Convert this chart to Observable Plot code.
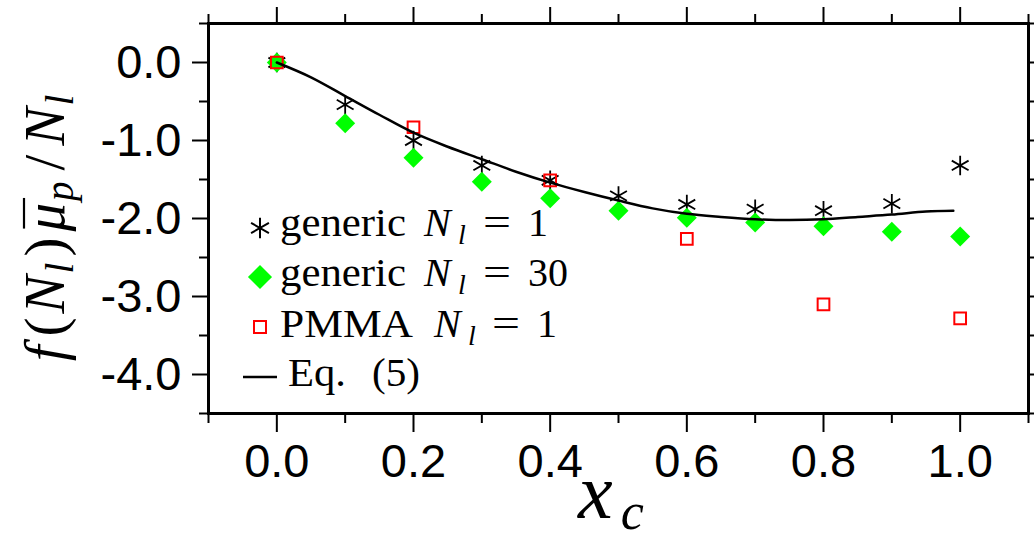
<!DOCTYPE html>
<html><head><meta charset="utf-8">
<script src="https://cdn.jsdelivr.net/npm/d3@7"></script>
<script src="https://cdn.jsdelivr.net/npm/@observablehq/plot@0.6"></script>
<style>html,body{margin:0;padding:0;background:#fff;overflow:hidden}</style>
</head><body><div id="chart"></div>
<script>
// ---- data ----
const xc = [0, 0.1, 0.2, 0.3, 0.4, 0.5, 0.6, 0.7, 0.8, 0.9, 1.0];
const genericN1 = [0, -0.54, -1.00, -1.32, -1.51, -1.71, -1.82, -1.88, -1.90, -1.81, -1.32];
const genericN30 = [0, -0.78, -1.22, -1.53, -1.74, -1.90, -1.99, -2.05, -2.10, -2.17, -2.23];
const pmmaX = [0, 0.2, 0.4, 0.6, 0.8, 1.0];
const pmmaN1 = [0, -0.83, -1.51, -2.26, -3.10, -3.28];
const eqX = [0, 0.05, 0.1, 0.15, 0.2, 0.25, 0.3, 0.35, 0.4, 0.45, 0.5, 0.55, 0.6, 0.65, 0.7, 0.75, 0.8, 0.85, 0.9, 0.95, 0.99];
const eqY = [0, -0.19, -0.43, -0.67, -0.90, -1.08, -1.24, -1.40, -1.54, -1.66, -1.77, -1.87, -1.94, -1.98, -2.01, -2.02, -2.01, -1.98, -1.95, -1.91, -1.90];
const xMajorTicks = [0, 0.2, 0.4, 0.6, 0.8, 1.0];
const xMinorTicks = [-0.1, 0.1, 0.3, 0.5, 0.7, 0.9, 1.1];
const yMajorTicks = [0, -1, -2, -3, -4];
const yMinorTicks = [0.5, -0.5, -1.5, -2.5, -3.5, -4.5];

const n1Data = xc.map((x, i) => ({x, y: genericN1[i]}));
const n30Data = xc.map((x, i) => ({x, y: genericN30[i]}));
const pmmaData = pmmaX.map((x, i) => ({x, y: pmmaN1[i]}));
const eqData = eqX.map((x, i) => ({x, y: eqY[i]}));

const sansFont = "Liberation Sans, Arial, Helvetica, sans-serif";
const serifFont = "Liberation Serif, 'Times New Roman', serif";
const blank = () => "";
const fmt = d => d.toFixed(1);

const chart = Plot.plot({
  width: 1034, height: 542,
  marginLeft: 208, marginRight: 6, marginTop: 23, marginBottom: 129,
  x: {domain: [-0.1, 1.1]},
  y: {domain: [-4.5, 0.5]},
  style: {fontFamily: sansFont, color: "black", background: "white", overflow: "hidden"},
  marks: [
    Plot.axisX({anchor: "bottom", ticks: xMajorTicks, tickSize: 19, tickPadding: 11, tickFormat: fmt, label: null, fontSize: 47, fontFamily: sansFont, strokeWidth: 2}),
    Plot.axisX({anchor: "bottom", ticks: xMinorTicks, tickSize: 10, tickFormat: blank, label: null, strokeWidth: 2}),
    Plot.axisX({anchor: "top", ticks: xMajorTicks, tickSize: 17, tickFormat: blank, label: null, strokeWidth: 2}),
    Plot.axisX({anchor: "top", ticks: xMinorTicks, tickSize: 10, tickFormat: blank, label: null, strokeWidth: 2}),
    Plot.axisY({anchor: "left", ticks: yMajorTicks, tickSize: 16, tickPadding: 11, tickFormat: fmt, label: null, fontSize: 47, fontFamily: sansFont, strokeWidth: 2}),
    Plot.axisY({anchor: "left", ticks: yMinorTicks, tickSize: 9, tickFormat: blank, label: null, strokeWidth: 2}),
    Plot.axisY({anchor: "right", ticks: yMajorTicks, tickSize: 16, tickFormat: blank, label: null, strokeWidth: 2}),
    Plot.axisY({anchor: "right", ticks: yMinorTicks, tickSize: 9, tickFormat: blank, label: null, strokeWidth: 2}),
    Plot.dot(n1Data, {x: "x", y: "y", symbol: "asterisk", r: 9.2, stroke: "black", strokeWidth: 1.8}),
    Plot.dot(n30Data, {x: "x", y: "y", symbol: "diamond2", r: 9.0, fill: "#00ff00", stroke: "none"}),
    Plot.dot(pmmaData, {x: "x", y: "y", symbol: "square", r: 6.6, stroke: "#ff0000", strokeWidth: 2, fill: "none"}),
    Plot.line(eqData, {x: "x", y: "y", curve: "catmull-rom", stroke: "black", strokeWidth: 2.5}),
    Plot.frame({stroke: "black", strokeWidth: 3})
  ]
});
document.getElementById("chart").appendChild(chart);

const svg = d3.select(chart);

// ---- legend ----
const lg = svg.append("g").attr("font-family", serifFont).attr("font-size", 40)
  .attr("fill", "black").attr("text-anchor", "start");
const symPath = (type, size) => d3.symbol(type, size)();
lg.append("path").attr("d", symPath(d3.symbolAsterisk, 300)).attr("transform", "translate(260,228)")
  .attr("stroke", "black").attr("stroke-width", 2).attr("fill", "none");
lg.append("path").attr("d", symPath(d3.symbolDiamond2, 370)).attr("transform", "translate(260,277)")
  .attr("fill", "#00ff00");
lg.append("path").attr("d", symPath(d3.symbolSquare, 144)).attr("transform", "translate(260,327)")
  .attr("stroke", "#ff0000").attr("stroke-width", 2).attr("fill", "none");
lg.append("line").attr("x1", 243).attr("x2", 277).attr("y1", 377).attr("y2", 377)
  .attr("stroke", "black").attr("stroke-width", 2.5);

function mathEntry(base, word, wx, ww, nx, lx, ex, vx, val) {
  lg.append("text").attr("x", wx).attr("y", base).attr("textLength", ww).attr("lengthAdjust", "spacingAndGlyphs").text(word);
  lg.append("text").attr("x", nx).attr("y", base).attr("font-style", "italic").text("N");
  lg.append("text").attr("x", lx).attr("y", base + 8).attr("font-style", "italic").attr("font-size", 28).text("l");
  lg.append("text").attr("x", ex).attr("y", base).attr("textLength", 28).attr("lengthAdjust", "spacingAndGlyphs").text("=");
  lg.append("text").attr("x", vx).attr("y", base).text(val);
}
mathEntry(236, "generic", 280, 126, 424, 458, 483, 528, "1");
mathEntry(286, "generic", 280, 126, 424, 458, 483, 528, "30");
mathEntry(337, "PMMA", 280, 133, 434, 468, 492, 537, "1");
lg.append("text").attr("x", 288).attr("y", 386).attr("textLength", 58).attr("lengthAdjust", "spacingAndGlyphs").text("Eq.");
lg.append("text").attr("x", 372).attr("y", 386).attr("textLength", 48).attr("lengthAdjust", "spacingAndGlyphs").text("(5)");

// ---- y axis title ----
const yg = svg.append("g").attr("transform", "translate(64,228) rotate(-90)");
const yInner = yg.append("g");
const yl = yInner.append("text").attr("x", 0).attr("y", 0)
  .attr("text-anchor", "start").attr("font-family", serifFont).attr("font-size", 57).attr("fill", "black");
yl.append("tspan").attr("font-style", "italic").text("f");
yl.append("tspan").attr("dx", 9).text("(");
yl.append("tspan").attr("font-style", "italic").attr("dx", 4).text("N");
yl.append("tspan").attr("font-style", "italic").attr("font-size", 39).attr("dy", 9).attr("dx", 2).text("l");
yl.append("tspan").attr("dy", -9).attr("dx", 6).text(")");
yl.append("tspan").attr("font-style", "italic").attr("dx", 6).text("μ");
yl.append("tspan").attr("font-style", "italic").attr("font-size", 39).attr("dy", 9).attr("dx", 2).text("p");
yl.append("tspan").attr("dy", -9).attr("dx", 11).text("/");
yl.append("tspan").attr("font-style", "italic").attr("dx", 9).text("N");
yl.append("tspan").attr("font-style", "italic").attr("font-size", 39).attr("dy", 9).attr("dx", 2).text("l");
try {
  const el = yl.node();
  const s = el.getStartPositionOfChar(5), e = el.getEndPositionOfChar(5);
  yInner.append("line").attr("x1", s.x + 3).attr("x2", e.x + 5).attr("y1", -40).attr("y2", -40)
    .attr("stroke", "black").attr("stroke-width", 2.2);
  const bb = el.getBBox();
  yInner.attr("transform", `translate(${-(bb.x + bb.width / 2)},0)`);
} catch (err) {}

// ---- x axis title ----
const xl = svg.append("text").attr("x", 578).attr("y", 518).attr("text-anchor", "start")
  .attr("font-family", serifFont).attr("font-size", 78).attr("font-style", "italic").attr("fill", "black");
xl.append("tspan").text("x");
xl.append("tspan").attr("font-size", 52).attr("dy", 11).attr("dx", 8).text("c");
</script>
</body></html>
